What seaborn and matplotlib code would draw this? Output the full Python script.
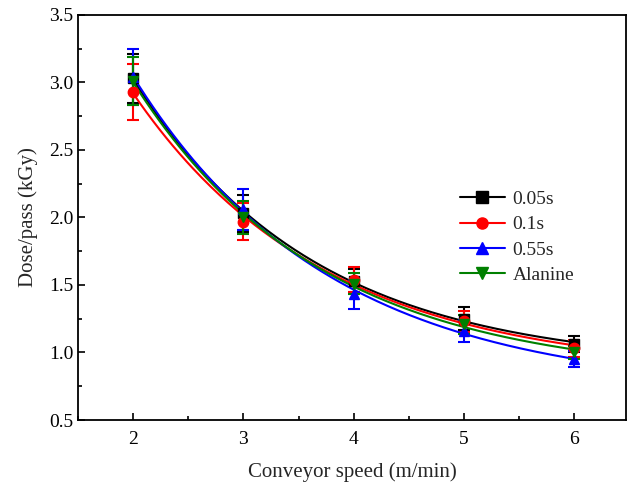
import numpy as np
import pandas as pd
import matplotlib
matplotlib.use("Agg")
import matplotlib.pyplot as plt
from matplotlib.lines import Line2D
from matplotlib.ticker import MultipleLocator
import seaborn as sns

# values
speed = [2, 3, 4, 5, 6]
dose_005 = [3.03, 2.03, 1.53, 1.25, 1.06]
err_005 = [0.18, 0.14, 0.09, 0.085, 0.06]
dose_01 = [2.93, 1.97, 1.54, 1.23, 1.03]
err_01 = [0.21, 0.14, 0.09, 0.08, 0.06]
dose_055 = [3.04, 2.06, 1.43, 1.16, 0.95]
err_055 = [0.21, 0.15, 0.11, 0.08, 0.06]
dose_ala = [3.01, 2.00, 1.51, 1.21, 1.00]
err_ala = [0.18, 0.12, 0.08, 0.07, 0.05]

labels = ["0.05s", "0.1s", "0.55s", "Alanine"]
colors = ["black", "red", "blue", "green"]
markers = ["s", "o", "^", "v"]
doses = [dose_005, dose_01, dose_055, dose_ala]
errs = [err_005, err_01, err_055, err_ala]


def expdec_fit(x, y):
    # y = y0 + A*exp(-x/t), t found by scanning, y0 and A by least squares
    x = np.asarray(x, float)
    y = np.asarray(y, float)
    best = None
    for t in np.linspace(0.3, 20, 2000):
        M = np.column_stack([np.ones_like(x), np.exp(-x / t)])
        coef, *_ = np.linalg.lstsq(M, y, rcond=None)
        r = np.sum((M @ coef - y) ** 2)
        if best is None or r < best[0]:
            best = (r, t, coef)
    return best[1], best[2]


sns.set_style("ticks")
plt.rcParams["font.family"] = ["Liberation Serif", "DejaVu Serif"]

fig = plt.figure(figsize=(6.27, 4.91), dpi=100)
ax = fig.add_axes([0.1244, 0.1446, 0.8740, 0.8249])

xs = np.linspace(2, 6, 200)
for d, e, c, m in zip(doses, errs, colors, markers):
    t, (y0, A) = expdec_fit(speed, d)
    fit = pd.DataFrame({"x": xs, "y": y0 + A * np.exp(-xs / t)})
    sns.lineplot(data=fit, x="x", y="y", color=c, lw=1.5, ax=ax, legend=False)
    ax.errorbar(speed, d, yerr=e, fmt=m, color=c, ms=7.5, capsize=4,
                elinewidth=1.5, capthick=1.5)

ax.set_xlim(1.5, 6.47)
ax.set_ylim(0.5, 3.5)
ax.xaxis.set_major_locator(MultipleLocator(1))
ax.xaxis.set_minor_locator(MultipleLocator(0.5))
ax.yaxis.set_major_locator(MultipleLocator(0.5))
ax.yaxis.set_minor_locator(MultipleLocator(0.25))
ax.yaxis.set_major_formatter(matplotlib.ticker.FormatStrFormatter("%.1f"))
ax.tick_params(which="both", direction="in", width=1.2, labelsize=14, colors="black")
ax.tick_params(which="major", length=5)
ax.tick_params(which="minor", length=3)
ax.tick_params(axis="x", pad=8)
for s in ax.spines.values():
    s.set_linewidth(1.3)
    s.set_color("black")

ax.set_xlabel("Conveyor speed (m/min)", fontsize=15, labelpad=10)
ax.set_ylabel("Dose/pass (kGy)", fontsize=15, labelpad=8)

handles = [Line2D([0], [0], color=c, marker=m, ms=8, lw=1.5)
           for c, m in zip(colors, markers)]
ax.legend(handles, labels, loc="upper left", bbox_to_anchor=(0.665, 0.61),
          frameon=False, fontsize=14, handlelength=2.3, labelspacing=0.4,
          handletextpad=0.4)

fig.savefig("out.png", dpi=100)
